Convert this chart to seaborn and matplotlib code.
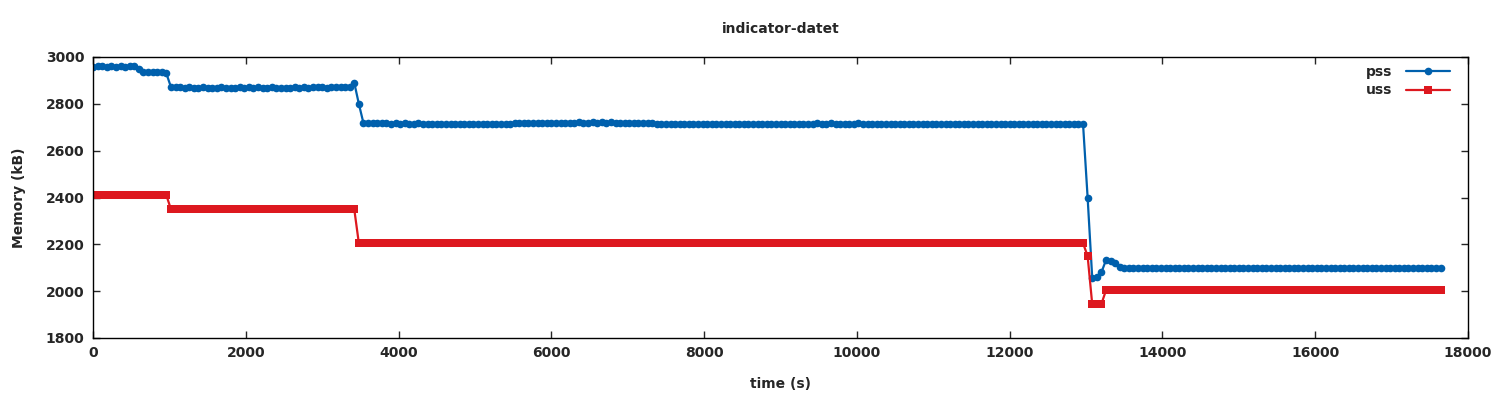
import numpy as np
import pandas as pd
import matplotlib
matplotlib.use("Agg")
import matplotlib.pyplot as plt
import seaborn as sns

# Sampling step of the memory log (seconds between samples)
SAMPLE_STEP = 60

# pss readings (kB), one per sample, 600 s per row
pss = [
    2958, 2960, 2961, 2959, 2960, 2958, 2960, 2957, 2962, 2961,
    2950, 2938, 2936, 2937, 2936, 2935, 2930, 2872, 2871, 2870,
    2869, 2870, 2868, 2869, 2870, 2868, 2867, 2869, 2870, 2868,
    2867, 2869, 2870, 2869, 2871, 2869, 2870, 2868, 2869, 2870,
    2868, 2867, 2866, 2869, 2870, 2869, 2870, 2869, 2870, 2871,
    2870, 2869, 2870, 2871, 2870, 2872, 2874, 2890, 2800, 2718,
    2720, 2718, 2719, 2717, 2718, 2716, 2717, 2716, 2717, 2716,
    2716, 2717, 2715, 2716, 2714, 2713, 2713, 2712, 2713, 2712,
    2712, 2713, 2712, 2712, 2713, 2712, 2712, 2713, 2714, 2716,
    2716, 2715, 2717, 2718, 2717, 2718, 2717, 2717, 2718, 2718,
    2717, 2718, 2719, 2720, 2719, 2720, 2721, 2720, 2720, 2721,
    2720, 2721, 2720, 2721, 2720, 2719, 2720, 2718, 2718, 2719,
    2718, 2720, 2717, 2713, 2712, 2712, 2713, 2712, 2712, 2713,
    2712, 2712, 2713, 2712, 2712, 2713, 2712, 2713, 2712, 2712,
    2713, 2712, 2712, 2713, 2712, 2713, 2712, 2712, 2713, 2713,
    2714, 2713, 2715, 2716, 2716, 2715, 2716, 2716, 2717, 2716,
    2716, 2717, 2716, 2716, 2715, 2716, 2716, 2717, 2716, 2715,
    2716, 2715, 2716, 2715, 2714, 2716, 2715, 2712, 2713, 2715,
    2714, 2712, 2713, 2712, 2713, 2712, 2712, 2713, 2712, 2713,
    2712, 2713, 2712, 2712, 2713, 2712, 2713, 2712, 2713, 2712,
    2713, 2712, 2713, 2712, 2713, 2713, 2712, 2713, 2712, 2713,
    2713, 2712, 2714, 2715, 2716, 2715, 2714, 2400, 2058, 2062,
    2080, 2132, 2130, 2120, 2102, 2100, 2101, 2100, 2099, 2100,
    2101, 2100, 2099, 2100, 2101, 2100, 2100, 2099, 2100, 2101,
    2100, 2099, 2100, 2101, 2100, 2100, 2101, 2100, 2099, 2100,
    2101, 2100, 2100, 2099, 2100, 2101, 2100, 2100, 2101, 2100,
    2099, 2100, 2101, 2100, 2100, 2099, 2100, 2101, 2100, 2100,
    2101, 2100, 2099, 2100, 2101, 2100, 2100, 2101, 2100, 2099,
    2100, 2101, 2100, 2100, 2099, 2100, 2101, 2100, 2100, 2101,
    2100, 2099, 2100, 2101, 2100,
]

# uss readings (kB): flat plateaus, written as value * sample count
uss = (
    [2410] * 17
    + [2350] * 41
    + [2205] * 159
    + [2150] * 1
    + [1945] * 3
    + [2003] * 74
)

df = pd.DataFrame({
    "time": np.arange(len(pss)) * SAMPLE_STEP,
    "pss": pss,
    "uss": uss,
})

sns.set_style("ticks")
plt.rcParams["font.family"] = ["DejaVu Sans"]

fig = plt.figure(figsize=(15, 4), dpi=100)
ax = fig.add_axes([0.062, 0.155, 0.9167, 0.7025])

sns.lineplot(data=df, x="time", y="pss", ax=ax, color="#0060ad",
             linewidth=1.6, marker="o", markersize=5.5, markeredgewidth=0,
             label="pss")
sns.lineplot(data=df, x="time", y="uss", ax=ax, color="#dd181f",
             linewidth=1.6, marker="s", markersize=6, markeredgewidth=0,
             label="uss")

ax.set_xlim(0, 18000)
ax.set_ylim(1800, 3000)
ax.set_xticks(range(0, 18001, 2000))
ax.set_yticks(range(1800, 3001, 200))
ax.tick_params(direction="in", length=5, width=1, top=True, right=True,
               labelsize=10, pad=6)
for lbl in ax.get_xticklabels() + ax.get_yticklabels():
    lbl.set_fontweight("bold")
for s in ax.spines.values():
    s.set_visible(True)
    s.set_linewidth(1)
    s.set_color("black")

ax.set_title("indicator-datet", fontsize=10, fontweight="bold", pad=17)
ax.set_xlabel("time (s)", fontsize=10, fontweight="bold", labelpad=12)
ax.set_ylabel("Memory (kB)", fontsize=10, fontweight="bold", labelpad=14)

leg = ax.legend(loc="upper right", frameon=False, markerfirst=False,
                handlelength=3.2, handletextpad=1.0, labelspacing=0.3,
                fontsize=10, borderaxespad=0.2,
                bbox_to_anchor=(0.993, 1.0))
for t in leg.get_texts():
    t.set_fontweight("bold")

fig.savefig("out.png", dpi=100)
